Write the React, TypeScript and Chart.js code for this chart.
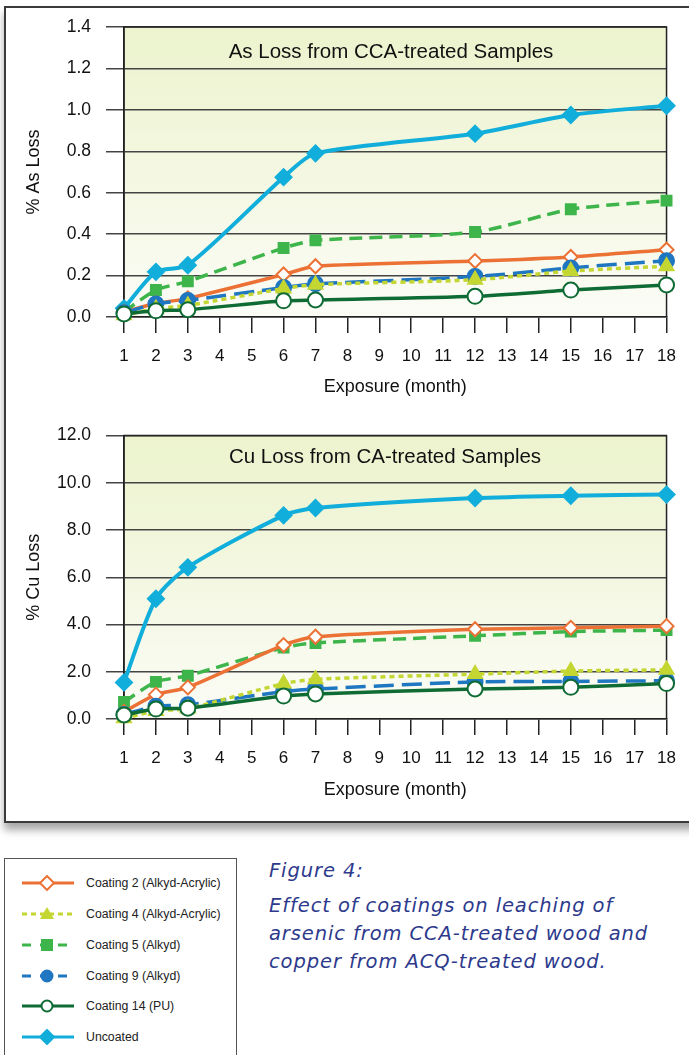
import React, { useEffect, useRef } from "react";
import { Chart, registerables } from "chart.js";
Chart.register(...registerables);

// ---- data ----
const MONTHS = [1, 2, 3, 6, 7, 12, 15, 18];
const X_TICKS = [1, 18];

const AS_COATING2 = [0.025, 0.065, 0.09, 0.205, 0.245, 0.27, 0.29, 0.325];
const AS_COATING4 = [0.008, 0.04, 0.056, 0.137, 0.156, 0.18, 0.222, 0.245];
const AS_COATING5 = [0.025, 0.13, 0.172, 0.333, 0.37, 0.41, 0.52, 0.562];
const AS_COATING9 = [0.02, 0.063, 0.08, 0.142, 0.16, 0.195, 0.237, 0.272];
const AS_COATING14 = [0.015, 0.03, 0.035, 0.078, 0.082, 0.1, 0.13, 0.155];
const AS_UNCOATED = [0.042, 0.218, 0.25, 0.675, 0.79, 0.885, 0.975, 1.02];

const CU_COATING2 = [0.3, 1.03, 1.34, 3.13, 3.48, 3.8, 3.86, 3.93];
const CU_COATING4 = [0.03, 0.34, 0.44, 1.5, 1.68, 1.9, 2.03, 2.08];
const CU_COATING5 = [0.72, 1.57, 1.83, 3.02, 3.22, 3.52, 3.7, 3.76];
const CU_COATING9 = [0.19, 0.54, 0.6, 1.16, 1.27, 1.57, 1.59, 1.62];
const CU_COATING14 = [0.17, 0.42, 0.46, 0.97, 1.06, 1.27, 1.34, 1.5];
const CU_UNCOATED = [1.55, 5.09, 6.42, 8.62, 8.93, 9.35, 9.45, 9.5];

const SERIES_LABELS = [
  "Coating 2 (Alkyd-Acrylic)",
  "Coating 4 (Alkyd-Acrylic)",
  "Coating 5 (Alkyd)",
  "Coating 9 (Alkyd)",
  "Coating 14 (PU)",
  "Uncoated",
];

const AS_VALUES = [AS_COATING2, AS_COATING4, AS_COATING5, AS_COATING9, AS_COATING14, AS_UNCOATED];
const CU_VALUES = [CU_COATING2, CU_COATING4, CU_COATING5, CU_COATING9, CU_COATING14, CU_UNCOATED];

// ---- styles ----
const STYLES = [
  { color: "#ec7135", fill: "#ffffff", point: "rectRot", radius: 7, dash: [], width: 3.5 },
  { color: "#c4d631", fill: "#c4d631", point: "triangle", radius: 8, dash: [5, 4], width: 3.5 },
  { color: "#3db54a", fill: "#3db54a", point: "rect", radius: 7, dash: [13, 7], width: 3.5 },
  { color: "#1f76c1", fill: "#1f76c1", point: "circle", radius: 7.5, dash: [20, 8], width: 3.5 },
  { color: "#0f6b34", fill: "#ffffff", point: "circle", radius: 7.5, dash: [], width: 3.5 },
  { color: "#12aedb", fill: "#12aedb", point: "rectRot", radius: 8, dash: [], width: 4 },
];

const FONT = "'Liberation Sans', Arial, Helvetica, sans-serif";

const plotFrame = {
  id: "plotFrame",
  beforeDraw(chart: any) {
    const { ctx, chartArea: a } = chart;
    const g = ctx.createLinearGradient(0, a.top, 0, a.bottom);
    g.addColorStop(0, "#ecf3cd");
    g.addColorStop(1, "#fbfcf6");
    ctx.save();
    ctx.fillStyle = g;
    ctx.fillRect(a.left, a.top, a.right - a.left, a.bottom - a.top);
    ctx.restore();
  },
  beforeDatasetsDraw(chart: any) {
    const { ctx, chartArea: a } = chart;
    ctx.save();
    ctx.strokeStyle = "#222";
    ctx.lineWidth = 1.5;
    ctx.beginPath();
    ctx.moveTo(a.left, a.bottom);
    ctx.lineTo(a.left, a.top);
    ctx.lineTo(a.right, a.top);
    ctx.lineTo(a.right, a.bottom);
    ctx.stroke();
    ctx.restore();
  },
};

function makeConfig(values: number[][], yMax: number, yStep: number, yTitle: string, padTop: number, xAxisH: number, xTitlePad: number) {
  const order = [4, 1, 3, 0, 2, 5];
  const datasets = order.map((i) => {
    const s = STYLES[i];
    return {
      label: SERIES_LABELS[i],
      data: MONTHS.map((m, k) => ({ x: m, y: values[i][k] })),
      borderColor: s.color,
      backgroundColor: s.fill,
      pointBackgroundColor: s.fill,
      pointBorderColor: s.color,
      pointBorderWidth: 2,
      pointStyle: s.point,
      pointRadius: s.radius,
      borderWidth: s.width,
      borderDash: s.dash,
      tension: 0.25,
      clip: false as any,
    };
  });
  return {
    type: "line" as const,
    data: { datasets },
    plugins: [plotFrame],
    options: {
      animation: false as const,
      responsive: false,
      layout: { padding: { top: padTop, right: 14, left: 0, bottom: 0 } },
      plugins: { legend: { display: false }, tooltip: { enabled: false } },
      scales: {
        x: {
          type: "linear" as const,
          min: X_TICKS[0],
          max: X_TICKS[1],
          afterFit: (s: any) => { s.height = xAxisH; },
          ticks: { stepSize: 1, autoSkip: false, padding: 13, color: "#111", font: { family: FONT, size: 17 } },
          grid: { drawOnChartArea: false, drawTicks: true, tickLength: 16, color: "#222", lineWidth: 1.5 },
          border: { display: true, color: "#222", width: 1.5 },
          title: { display: true, text: "Exposure (month)", color: "#111", font: { family: FONT, size: 18 }, padding: { top: 0, bottom: xTitlePad } },
        },
        y: {
          min: 0,
          max: yMax,
          afterFit: (s: any) => { s.width = 124; },
          ticks: { stepSize: yStep, padding: 15, color: "#111", font: { family: FONT, size: 17.5 }, callback: (v: any) => Number(v).toFixed(1) },
          grid: { color: "#444", lineWidth: 1.5, tickLength: 18, drawTicks: true },
          border: { display: true, color: "#222", width: 1.5 },
          title: { display: true, text: yTitle, color: "#111", font: { family: FONT, size: 18 }, padding: { top: 23, bottom: 0 } },
        },
      },
    },
  };
}

function LineChart({ cfg, top }: { cfg: any; top: number }) {
  const ref = useRef<HTMLCanvasElement>(null);
  useEffect(() => {
    const c = new Chart(ref.current as HTMLCanvasElement, cfg);
    return () => c.destroy();
  }, []);
  return (
    <canvas ref={ref} width={689} height={410} style={{ position: "absolute", left: 0, top, width: 689, height: 410 }} />
  );
}

function LegendMark({ i }: { i: number }) {
  const s = STYLES[i];
  const cx = 26, cy = 8;
  let marker: any = null;
  if (s.point === "rectRot") marker = <polygon points={`${cx},${cy - 7} ${cx + 7},${cy} ${cx},${cy + 7} ${cx - 7},${cy}`} fill={s.fill} stroke={s.color} strokeWidth={2} />;
  else if (s.point === "triangle") marker = <polygon points={`${cx},${cy - 7} ${cx + 7},${cy + 5} ${cx - 7},${cy + 5}`} fill={s.fill} />;
  else if (s.point === "rect") marker = <rect x={cx - 6} y={cy - 6} width={12} height={12} fill={s.fill} />;
  else marker = <circle cx={cx} cy={cy} r={5.5} fill={s.fill} stroke={s.color} strokeWidth={2} />;
  return (
    <svg width={54} height={16} style={{ position: "absolute", left: 21, top: -8 }}>
      <line x1={1} y1={cy} x2={53} y2={cy} stroke={s.color} strokeWidth={3} strokeDasharray={s.dash.length ? (i === 1 ? "5 4" : "9 9") : undefined} />
      {marker}
    </svg>
  );
}

export default function App() {
  const topCfg = makeConfig(AS_VALUES, 1.4, 0.2, "% As Loss", 27, 93, 12);
  const botCfg = makeConfig(CU_VALUES, 12, 2, "% Cu Loss", 18, 101, 19);
  const rows = [883, 914, 945, 976, 1006, 1037];
  return (
    <div style={{ position: "absolute", left: 0, top: 0, width: 689, height: 1055, overflow: "hidden", background: "#fff", fontFamily: FONT }}>
      <div style={{ position: "absolute", left: 4, top: 6, width: 720, height: 813, border: "2px solid #3a3a3a", background: "#fff", boxShadow: "0 7px 8px rgba(0,0,0,0.35)" }} />
      <LineChart cfg={topCfg} top={0} />
      <LineChart cfg={botCfg} top={410} />
      <div style={{ position: "absolute", left: 91, width: 600, top: 39, textAlign: "center", fontSize: 20.5, color: "#111", whiteSpace: "nowrap" }}>As Loss from CCA-treated Samples</div>
      <div style={{ position: "absolute", left: 85, width: 600, top: 444, textAlign: "center", fontSize: 20.5, color: "#111", whiteSpace: "nowrap" }}>Cu Loss from CA-treated Samples</div>
      <div style={{ position: "absolute", left: 4, top: 858, width: 231, height: 220, border: "1px solid #555", background: "#fff" }} />
      {SERIES_LABELS.map((l, i) => (
        <div key={l} style={{ position: "absolute", left: 0, top: rows[i], width: 240, height: 0 }}>
          <LegendMark i={i} />
          <span style={{ position: "absolute", left: 86, top: -8, fontSize: 12.3, lineHeight: "16px", color: "#222", whiteSpace: "nowrap" }}>{l}</span>
        </div>
      ))}
      <div style={{ position: "absolute", left: 269, top: 857, fontFamily: "'DejaVu Sans', sans-serif", fontStyle: "italic", color: "#2d3a8c", fontSize: 19.5, letterSpacing: "0.9px", lineHeight: "28px", whiteSpace: "nowrap" }}>
        <div style={{ marginBottom: 7 }}>Figure 4:</div>
        <div>Effect of coatings on leaching of</div>
        <div>arsenic from CCA-treated wood and</div>
        <div>copper from ACQ-treated wood.</div>
      </div>
    </div>
  );
}
